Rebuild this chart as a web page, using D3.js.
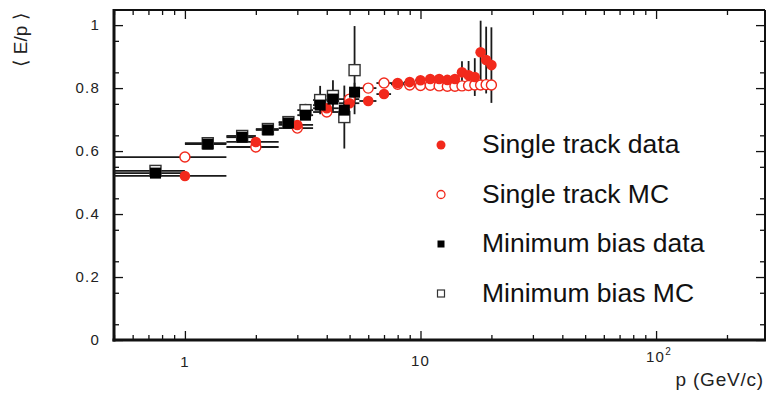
<!DOCTYPE html>
<html>
<head>
<meta charset="utf-8">
<script src="https://cdn.jsdelivr.net/npm/d3@7"></script>
<style>
  body { margin: 0; background: #fff; }
</style>
</head>
<body>
<div id="chart"></div>
<script>
// single track data (filled red circles)
const stP = [1, 2, 3, 4, 5, 6, 7, 8, 9, 10, 11, 12, 13, 14, 15, 16, 17, 18, 19, 20]
const stLo = [0.5, 1.5, 2.5, 3.5, 4.5, 5.5, 6.5, 7.5, 8.5, 9.5, 10.5, 11.5, 12.5, 13.5, 14.5, 15.5, 16.5, 17.5, 18.5, 19.5]
const stHi = [1.5, 2.5, 3.5, 4.5, 5.5, 6.5, 7.5, 8.5, 9.5, 10.5, 11.5, 12.5, 13.5, 14.5, 15.5, 16.5, 17.5, 18.5, 19.5, 20.5]
const stData = [0.521, 0.629, 0.683, 0.736, 0.752, 0.759, 0.781, 0.816, 0.819, 0.825, 0.829, 0.829, 0.826, 0.829, 0.85, 0.841, 0.835, 0.914, 0.889, 0.873]
const stDataErr = [0.004, 0.004, 0.004, 0.005, 0.005, 0.005, 0.005, 0.005, 0.005, 0.006, 0.006, 0.007, 0.008, 0.01, 0.035, 0.045, 0.06, 0.1, 0.106, 0.12]
// single track MC (open red circles)
const stMc = [0.581, 0.613, 0.673, 0.724, 0.765, 0.8, 0.816, 0.812, 0.81, 0.808, 0.809, 0.807, 0.806, 0.806, 0.807, 0.808, 0.81, 0.81, 0.811, 0.81]

// minimum bias (squares)
const mbP = [0.75, 1.25, 1.75, 2.25, 2.75, 3.25, 3.75, 4.25, 4.75, 5.25]
const mbLo = [0.5, 1, 1.5, 2, 2.5, 3, 3.5, 4, 4.5, 5]
const mbHi = [1, 1.5, 2, 2.5, 3, 3.5, 4, 4.5, 5, 5.5]
const mbData = [0.53, 0.622, 0.644, 0.667, 0.689, 0.714, 0.746, 0.765, 0.73, 0.787]
const mbDataErr = [0.004, 0.004, 0.004, 0.005, 0.006, 0.01, 0.015, 0.02, 0.03, 0.03]
const mbMc = [0.537, 0.625, 0.648, 0.67, 0.692, 0.73, 0.762, 0.775, 0.708, 0.857]
const mbMcErr = [0.004, 0.004, 0.004, 0.005, 0.006, 0.02, 0.045, 0.05, 0.1, 0.14]

const yTicks = [0, 0.2, 0.4, 0.6, 0.8, 1]
const xMajor = [1, 10, 100]
const legendLabels = ['Single track data', 'Single track MC', 'Minimum bias data', 'Minimum bias MC']

const W = 767, H = 393
const RED = '#f2291c'
const margin = { top: 10, right: 2, bottom: 53, left: 114 }

const svg = d3.select('#chart').append('svg')
  .attr('width', W).attr('height', H)
  .style('font-family', '"Liberation Sans", Arial, sans-serif')

const x = d3.scaleLog().domain([0.5, 290]).range([margin.left, W - margin.right])
const y = d3.scaleLinear().domain([0, 1.048]).range([H - margin.bottom, margin.top])

const xMinor = []
;[0.1, 1, 10, 100].forEach(d => {
  for (let k = 2; k <= 9; k++) {
    const v = k * d
    if (v >= 0.5 && v <= 290) xMinor.push(v)
  }
})
const yMinor = d3.range(0.05, 1.05, 0.1)

// ticks, pointing inward on all four sides
const axisG = svg.append('g').attr('stroke', '#111')
const tickStyle = g => {
  g.select('.domain').remove()
  g.selectAll('text').remove()
  g.selectAll('line').attr('stroke', '#111').attr('stroke-width', 1.3)
}
axisG.append('g').attr('transform', `translate(${x.range()[0]},0)`)
  .call(d3.axisLeft(y).tickValues(yTicks).tickSize(-9)).call(tickStyle)
axisG.append('g').attr('transform', `translate(${x.range()[0]},0)`)
  .call(d3.axisLeft(y).tickValues(yMinor).tickSize(-5)).call(tickStyle)
axisG.append('g').attr('transform', `translate(${x.range()[1]},0)`)
  .call(d3.axisRight(y).tickValues(yTicks).tickSize(-9)).call(tickStyle)
axisG.append('g').attr('transform', `translate(${x.range()[1]},0)`)
  .call(d3.axisRight(y).tickValues(yMinor).tickSize(-5)).call(tickStyle)
axisG.append('g').attr('transform', `translate(0,${y(0)})`)
  .call(d3.axisBottom(x).tickValues(xMajor).tickSize(-9)).call(tickStyle)
axisG.append('g').attr('transform', `translate(0,${y(0)})`)
  .call(d3.axisBottom(x).tickValues(xMinor).tickSize(-5)).call(tickStyle)
axisG.append('g').attr('transform', `translate(0,${y.range()[1]})`)
  .call(d3.axisTop(x).tickValues(xMajor).tickSize(-9)).call(tickStyle)
axisG.append('g').attr('transform', `translate(0,${y.range()[1]})`)
  .call(d3.axisTop(x).tickValues(xMinor).tickSize(-5)).call(tickStyle)

// frame
const [x0, x1] = x.range()
const [yb, yt] = y.range()
svg.append('line').attr('x1', x0).attr('x2', x1).attr('y1', yt).attr('y2', yt)
  .attr('stroke', '#111').attr('stroke-width', 2)
svg.append('line').attr('x1', x1).attr('x2', x1).attr('y1', yt).attr('y2', yb)
  .attr('stroke', '#111').attr('stroke-width', 2)
svg.append('line').attr('x1', x0).attr('x2', x0).attr('y1', yt - 1).attr('y2', yb + 1.5)
  .attr('stroke', '#111').attr('stroke-width', 3)
svg.append('line').attr('x1', x0 - 1.5).attr('x2', x1 + 1).attr('y1', yb).attr('y2', yb)
  .attr('stroke', '#111').attr('stroke-width', 3)

// tick labels
svg.append('g').selectAll('text').data(yTicks).join('text')
  .attr('x', 100).attr('y', d => y(d) + 5)
  .attr('text-anchor', 'end')
  .attr('font-size', 15).attr('letter-spacing', 1.2)
  .attr('fill', '#222')
  .text(d => d === 0 || d === 1 ? String(d) : d.toFixed(1))

const xl = svg.append('g').attr('font-size', 15).attr('fill', '#222').attr('letter-spacing', 1.2)
xl.append('text').attr('x', x(1)).attr('y', 367).attr('text-anchor', 'middle').text('1')
xl.append('text').attr('x', x(10)).attr('y', 366).attr('text-anchor', 'middle').text('10')
const hundred = xl.append('text').attr('x', x(100) - 10).attr('y', 362).attr('text-anchor', 'start')
hundred.append('tspan').text('10')
hundred.append('tspan').attr('dy', -7).attr('font-size', 10).text('2')

// axis titles
svg.append('text')
  .attr('x', 764).attr('y', 386)
  .attr('text-anchor', 'end')
  .attr('font-size', 19).attr('letter-spacing', 0.8)
  .attr('fill', '#222')
  .text('p (GeV/c)')

svg.append('text')
  .attr('transform', 'translate(27,40) rotate(-90)')
  .attr('text-anchor', 'middle')
  .attr('font-size', 19)
  .attr('fill', '#222')
  .text('⟨ E/p ⟩')

// error bars
const bars = svg.append('g').attr('stroke', '#1a1a1a').attr('stroke-width', 1.8)
const hBar = (p, lo, hi, v) => bars.append('line')
  .attr('x1', x(lo)).attr('x2', x(hi)).attr('y1', y(v)).attr('y2', y(v))
const vBar = (p, v, e) => bars.append('line')
  .attr('x1', x(p)).attr('x2', x(p)).attr('y1', y(v - e)).attr('y2', y(v + e))

stP.forEach((p, i) => {
  hBar(p, stLo[i], stHi[i], stMc[i])
  hBar(p, stLo[i], stHi[i], stData[i])
  vBar(p, stData[i], stDataErr[i])
})
mbP.forEach((p, i) => {
  hBar(p, mbLo[i], mbHi[i], mbMc[i])
  hBar(p, mbLo[i], mbHi[i], mbData[i])
  vBar(p, mbMc[i], mbMcErr[i])
  vBar(p, mbData[i], mbDataErr[i])
})

// markers
const marks = svg.append('g')
marks.selectAll('.mbmc').data(mbP).join('rect')
  .attr('x', d => x(d) - 5.5).attr('y', (d, i) => y(mbMc[i]) - 5.5)
  .attr('width', 11).attr('height', 11)
  .attr('fill', '#fff').attr('stroke', '#333').attr('stroke-width', 1.4)
marks.selectAll('.stmc').data(stP).join('circle')
  .attr('cx', d => x(d)).attr('cy', (d, i) => y(stMc[i]))
  .attr('r', 5)
  .attr('fill', '#fff').attr('stroke', RED).attr('stroke-width', 1.4)
marks.selectAll('.st').data(stP).join('circle')
  .attr('cx', d => x(d)).attr('cy', (d, i) => y(stData[i]))
  .attr('r', 5.3)
  .attr('fill', RED)
marks.selectAll('.mb').data(mbP).join('rect')
  .attr('x', d => x(d) - 5.5).attr('y', (d, i) => y(mbData[i]) - 5.5)
  .attr('width', 11).attr('height', 11)
  .attr('fill', '#000')

// legend
const legend = svg.append('g').attr('transform', 'translate(441,145)')
legendLabels.forEach((label, i) => {
  const row = legend.append('g').attr('transform', `translate(0,${i * 49.5})`)
  if (i === 0) row.append('circle').attr('r', 4.5).attr('fill', RED)
  if (i === 1) row.append('circle').attr('r', 4).attr('fill', '#fff').attr('stroke', RED).attr('stroke-width', 1.3)
  if (i === 2) row.append('rect').attr('x', -3.5).attr('y', -3.5).attr('width', 7).attr('height', 7).attr('fill', '#000')
  if (i === 3) row.append('rect').attr('x', -3.5).attr('y', -3.5).attr('width', 7).attr('height', 7)
    .attr('fill', '#fff').attr('stroke', '#333').attr('stroke-width', 1.2)
  row.append('text')
    .attr('x', 41).attr('y', 8)
    .attr('font-size', 26.5)
    .attr('fill', '#111')
    .text(label)
})
</script>
</body>
</html>
